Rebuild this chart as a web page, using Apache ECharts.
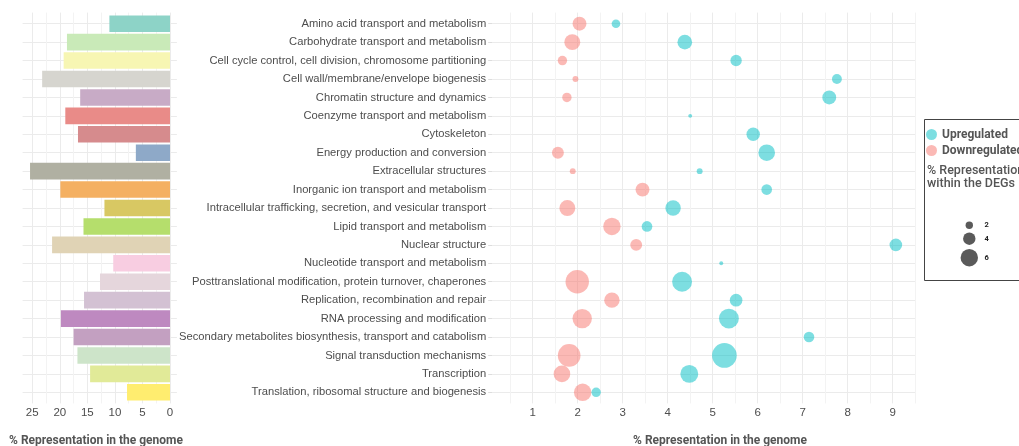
<!DOCTYPE html>
<html>
<head>
<meta charset="utf-8">
<script src="https://cdn.jsdelivr.net/npm/echarts@6/dist/echarts.min.js"></script>
<style>html,body{margin:0;padding:0;background:#fff;}#c{width:1019px;height:446px;}</style>
</head>
<body>
<div id="c"></div>
<script>
const categories = [
  'Amino acid transport and metabolism',
  'Carbohydrate transport and metabolism',
  'Cell cycle control, cell division, chromosome partitioning',
  'Cell wall/membrane/envelope biogenesis',
  'Chromatin structure and dynamics',
  'Coenzyme transport and metabolism',
  'Cytoskeleton',
  'Energy production and conversion',
  'Extracellular structures',
  'Inorganic ion transport and metabolism',
  'Intracellular trafficking, secretion, and vesicular transport',
  'Lipid transport and metabolism',
  'Nuclear structure',
  'Nucleotide transport and metabolism',
  'Posttranslational modification, protein turnover, chaperones',
  'Replication, recombination and repair',
  'RNA processing and modification',
  'Secondary metabolites biosynthesis, transport and catabolism',
  'Signal transduction mechanisms',
  'Transcription',
  'Translation, ribosomal structure and biogenesis'
];
// % representation in the genome (left bars)
const genomePct = [11.0, 18.7, 19.3, 23.2, 16.3, 19.0, 16.7, 6.2, 25.4, 19.9, 11.9, 15.7, 21.4, 10.3, 12.7, 15.6, 19.8, 17.5, 16.8, 14.5, 7.8];
const barColors = ['#8dd3c7','#c9eab8','#f7f6b3','#d6d5cf','#c8abc6','#e98b88','#d68b8d','#8ea9c8','#b0b0a2','#f4b062','#d8c863','#b5de6c','#e0d3b5','#f8cde1','#e5d6dc','#d3c1d3','#be89c0','#c3a0c1','#cde4c9','#e1ea98','#ffed6f'];
// Upregulated: x = % representation in genome, size = % within DEGs
const upX    = [2.85, 4.38, 5.52, 7.76, 7.59, 4.50, 5.90, 6.20, 4.71, 6.20, 4.12, 3.54, 9.07, 5.19, 4.32, 5.52, 5.36, 7.14, 5.26, 4.48, 2.41];
const upSize = [2.5, 4.9, 3.6, 3.0, 4.6, 0.6, 4.4, 5.7, 1.4, 3.3, 5.2, 3.3, 4.1, 0.6, 7.0, 4.1, 7.0, 3.3, 8.9, 6.2, 2.8];
// Downregulated
const downX    = [2.04, 1.88, 1.66, 1.95, 1.76, null, null, 1.56, 1.89, 3.44, 1.77, 2.76, 3.30, null, 1.99, 2.76, 2.10, null, 1.81, 1.65, 2.11];
const downSize = [4.6, 5.4, 2.8, 1.4, 2.8, null, null, 3.8, 1.4, 4.6, 5.4, 6.0, 3.8, null, 8.4, 5.2, 6.8, null, 8.1, 5.7, 6.0];
const sizeLegendValues = [2, 4, 6];
const xTickLabelsLeft = [0, 5, 10, 15, 20, 25];
const xTickLabelsRight = [1, 2, 3, 4, 5, 6, 7, 8, 9];

const UP_COLOR = 'rgba(0,191,196,0.64)';
const DOWN_COLOR = 'rgba(248,118,109,0.64)';
const diam = v => 2.5 * v + 2.4;

function pts(xs, ss) {
  const out = [];
  xs.forEach((x, i) => { if (x != null) out.push([x, i, ss[i]]); });
  return out;
}
function near(v, list) { return list.some(t => Math.abs(v - t) < 1e-6); }

const MAJOR = '#ebebeb', MINOR = '#f3f3f3', T = 'rgba(0,0,0,0)';
const leftCols = []; for (let i = 0; i < 20; i++) leftCols.push(i === 5 ? MAJOR : (i === 15 ? MINOR : T));
const rightCols = []; for (let i = 0; i < 10; i++) rightCols.push(i === 9 ? MAJOR : (i === 4 ? MINOR : T));
const yCols = [T, T, T, MAJOR, T];

const labelFont = {color: '#4d4d4d', fontSize: 11.5, fontFamily: 'Liberation Sans'};

const L = {left: 22.6, width: 154.3};
const R = {left: 492.2, width: 423};
const GT = {top: 12.6, height: 390.8};
const CT = {top: 14.49, height: 387.03};

const chart = echarts.init(document.getElementById('c'), null, {renderer: 'canvas'});
chart.setOption({
  animation: false,
  backgroundColor: '#ffffff',
  grid: [
    Object.assign({}, L, GT),
    Object.assign({}, L, CT),
    Object.assign({}, R, GT),
    Object.assign({}, R, CT)
  ],
  xAxis: [
    {gridIndex: 0, type: 'value', inverse: true, min: -1.25, max: 26.75, interval: 0.25,
     axisLine: {show: false}, axisTick: {show: false},
     splitLine: {show: true, lineStyle: {color: leftCols, width: 1}},
     axisLabel: Object.assign({margin: 3, formatter: v => near(v, xTickLabelsLeft) ? String(Math.round(v)) : ''}, labelFont)},
    {gridIndex: 1, type: 'value', inverse: true, min: -1.25, max: 26.75, show: false, splitLine: {show: false}},
    {gridIndex: 2, type: 'value', min: 0.1, max: 9.5, interval: 0.1,
     axisLine: {show: false}, axisTick: {show: false},
     splitLine: {show: true, lineStyle: {color: rightCols, width: 1}},
     axisLabel: Object.assign({margin: 3, formatter: v => near(v, xTickLabelsRight) ? String(Math.round(v)) : ''}, labelFont)},
    {gridIndex: 3, type: 'value', min: 0.1, max: 9.5, show: false, splitLine: {show: false}}
  ],
  yAxis: [
    {gridIndex: 0, type: 'value', inverse: true, min: -0.6, max: 20.6, interval: 0.2,
     axisLine: {show: false}, axisTick: {show: false}, axisLabel: {show: false},
     splitLine: {show: true, lineStyle: {color: yCols, width: 1}}},
    {gridIndex: 1, type: 'category', inverse: true, data: categories, show: false},
    {gridIndex: 2, type: 'value', inverse: true, min: -0.6, max: 20.6, interval: 0.2,
     axisLine: {show: false}, axisTick: {show: false}, axisLabel: {show: false},
     splitLine: {show: true, lineStyle: {color: yCols, width: 1}}},
    {gridIndex: 3, type: 'category', inverse: true, data: categories,
     axisLine: {show: false},
     axisTick: {show: true, alignWithLabel: true, length: 4, lineStyle: {color: '#dddddd'}},
     splitLine: {show: false},
     axisLabel: Object.assign({margin: 6}, labelFont, {fontSize: 11.2})}
  ],
  legend: {
    data: ['Upregulated', 'Downregulated'],
    orient: 'vertical', left: 926, top: 128.5, padding: 0,
    icon: 'circle', itemWidth: 11, itemHeight: 11, itemGap: 4,
    selectedMode: false,
    textStyle: {color: '#555555', fontSize: 12, fontWeight: 'bold', fontFamily: 'Roboto', padding: [0, 0, 0, 0]}
  },
  series: [
    {type: 'bar', name: 'genome', xAxisIndex: 1, yAxisIndex: 1, barCategoryGap: '10%',
     data: genomePct.map((v, i) => ({value: v, itemStyle: {color: barColors[i]}}))},
    {type: 'scatter', name: 'Downregulated', xAxisIndex: 3, yAxisIndex: 3,
     data: pts(downX, downSize), symbolSize: d => diam(d[2]),
     itemStyle: {color: DOWN_COLOR}},
    {type: 'scatter', name: 'Upregulated', xAxisIndex: 3, yAxisIndex: 3,
     data: pts(upX, upSize), symbolSize: d => diam(d[2]),
     itemStyle: {color: UP_COLOR}}
  ],
  graphic: [
    {type: 'text', x: 96, y: 441, style: {text: '% Representation in the genome', fill: '#555555', fontSize: 12, fontWeight: 'bold', fontFamily: 'Roboto', align: 'center', verticalAlign: 'middle'}},
    {type: 'text', x: 720, y: 441, style: {text: '% Representation in the genome', fill: '#555555', fontSize: 12, fontWeight: 'bold', fontFamily: 'Roboto', align: 'center', verticalAlign: 'middle'}},
    {type: 'rect', shape: {x: 924.5, y: 119.5, width: 110, height: 161}, style: {fill: 'none', stroke: '#444444', lineWidth: 1}},
    {type: 'text', x: 927, y: 164.5, style: {text: '% Representation\nwithin the DEGs', fill: '#555555', fontSize: 12.5, fontWeight: 500, fontFamily: 'Roboto', lineHeight: 12.8, align: 'left', verticalAlign: 'top'}}
  ].concat(sizeLegendValues.map((v, i) => ({
    type: 'circle', shape: {cx: 969.3, cy: [225.3, 238.7, 257.7][i], r: diam(v) / 2}, style: {fill: '#5a5a5a'}
  }))).concat(sizeLegendValues.map((v, i) => ({
    type: 'text', x: 984.5, y: [225.3, 238.7, 257.7][i], style: {text: String(v), fill: '#222222', fontSize: 7.5, fontWeight: 'bold', fontFamily: 'Roboto', align: 'left', verticalAlign: 'middle'}
  })))
});
</script>
</body>
</html>
